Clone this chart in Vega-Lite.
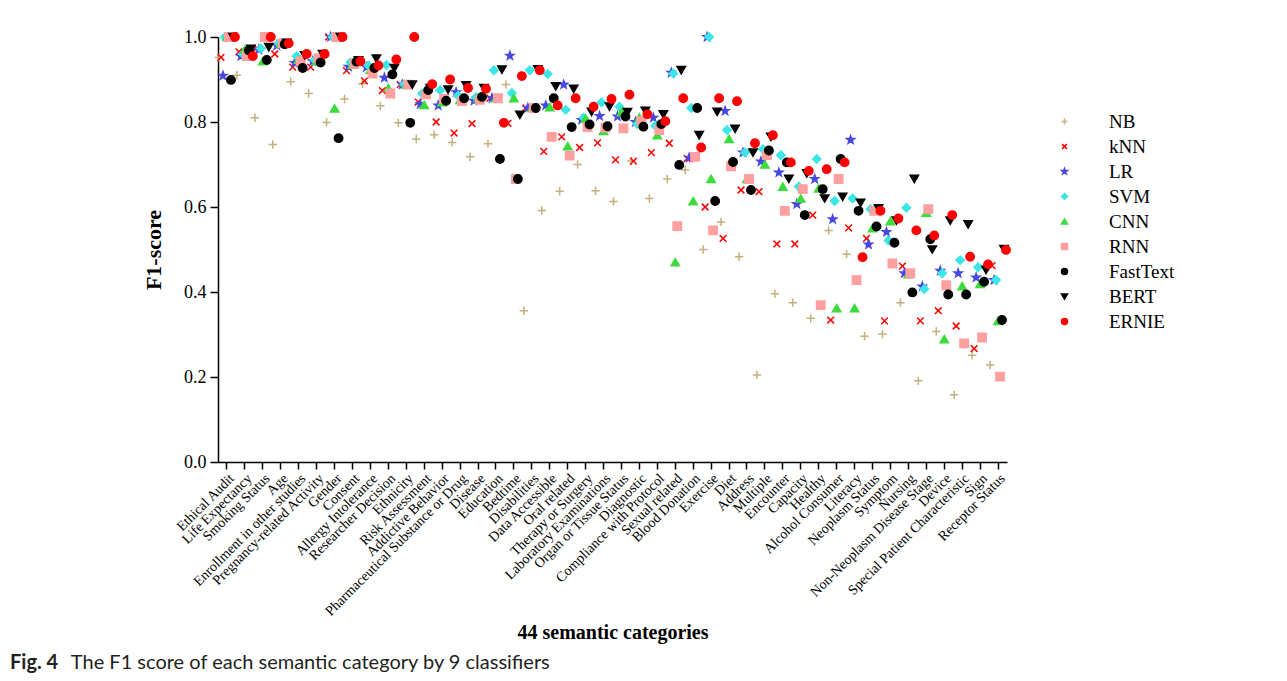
{
 "$schema": "https://vega.github.io/schema/vega-lite/v6.json",
 "width": 789,
 "height": 425,
 "autosize": {"type": "none"},
 "padding": {"left": 218, "top": 37, "right": 280, "bottom": 219},
 "background": "white",
 "datasets": {
  "cats": [{"i":0,"c":"Ethical Audit"},{"i":1,"c":"Life Expectancy"},{"i":2,"c":"Smoking Status"},{"i":3,"c":"Age"},{"i":4,"c":"Enrollment in other studies"},{"i":5,"c":"Pregnancy-related Activity"},{"i":6,"c":"Gender"},{"i":7,"c":"Consent"},{"i":8,"c":"Allergy Intolerance"},{"i":9,"c":"Researcher Decision"},{"i":10,"c":"Ethnicity"},{"i":11,"c":"Risk Assessment"},{"i":12,"c":"Addictive Behavior"},{"i":13,"c":"Pharmaceutical Substance or Drug"},{"i":14,"c":"Disease"},{"i":15,"c":"Education"},{"i":16,"c":"Bedtime"},{"i":17,"c":"Disabilities"},{"i":18,"c":"Data Accessible"},{"i":19,"c":"Oral related"},{"i":20,"c":"Therapy or Surgery"},{"i":21,"c":"Laboratory Examinations"},{"i":22,"c":"Organ or Tissue Status"},{"i":23,"c":"Diagnostic"},{"i":24,"c":"Compliance with Protocol"},{"i":25,"c":"Sexual related"},{"i":26,"c":"Blood Donation"},{"i":27,"c":"Exercise"},{"i":28,"c":"Diet"},{"i":29,"c":"Address"},{"i":30,"c":"Multiple"},{"i":31,"c":"Encounter"},{"i":32,"c":"Capacity"},{"i":33,"c":"Healthy"},{"i":34,"c":"Alcohol Consumer"},{"i":35,"c":"Literacy"},{"i":36,"c":"Neoplasm Status"},{"i":37,"c":"Symptom"},{"i":38,"c":"Nursing"},{"i":39,"c":"Non-Neoplasm Disease Stage"},{"i":40,"c":"Device"},{"i":41,"c":"Special Patient Characteristic"},{"i":42,"c":"Sign"},{"i":43,"c":"Receptor Status"}],
  "pts": [
{"i":0,"m":"NB","v":0.952},{"i":1,"m":"NB","v":0.91},{"i":2,"m":"NB","v":0.81},{"i":3,"m":"NB","v":0.747},{"i":4,"m":"NB","v":0.895},{"i":5,"m":"NB","v":0.867},{"i":6,"m":"NB","v":0.799},{"i":7,"m":"NB","v":0.854},{"i":8,"m":"NB","v":0.89},{"i":9,"m":"NB","v":0.838},{"i":10,"m":"NB","v":0.798},{"i":11,"m":"NB","v":0.76},{"i":12,"m":"NB","v":0.77},{"i":13,"m":"NB","v":0.752},{"i":14,"m":"NB","v":0.718},{"i":15,"m":"NB","v":0.749},{"i":16,"m":"NB","v":0.888},{"i":17,"m":"NB","v":0.356},{"i":18,"m":"NB","v":0.592},{"i":19,"m":"NB","v":0.637},{"i":20,"m":"NB","v":0.70},{"i":21,"m":"NB","v":0.638},{"i":22,"m":"NB","v":0.613},{"i":23,"m":"NB","v":0.708},{"i":24,"m":"NB","v":0.62},{"i":25,"m":"NB","v":0.666},{"i":26,"m":"NB","v":0.687},{"i":27,"m":"NB","v":0.50},{"i":28,"m":"NB","v":0.565},{"i":29,"m":"NB","v":0.483},{"i":30,"m":"NB","v":0.205},{"i":31,"m":"NB","v":0.396},{"i":32,"m":"NB","v":0.375},{"i":33,"m":"NB","v":0.338},{"i":34,"m":"NB","v":0.545},{"i":35,"m":"NB","v":0.489},{"i":36,"m":"NB","v":0.296},{"i":37,"m":"NB","v":0.301},{"i":38,"m":"NB","v":0.375},{"i":39,"m":"NB","v":0.191},{"i":40,"m":"NB","v":0.307},{"i":41,"m":"NB","v":0.158},{"i":42,"m":"NB","v":0.251},{"i":43,"m":"NB","v":0.228},
{"i":0,"m":"kNN","v":0.952},{"i":1,"m":"kNN","v":0.965},{"i":2,"m":"kNN","v":0.974},{"i":3,"m":"kNN","v":0.96},{"i":4,"m":"kNN","v":0.929},{"i":5,"m":"kNN","v":0.929},{"i":6,"m":"kNN","v":1.0},{"i":7,"m":"kNN","v":0.921},{"i":8,"m":"kNN","v":0.897},{"i":9,"m":"kNN","v":0.874},{"i":10,"m":"kNN","v":0.888},{"i":11,"m":"kNN","v":0.847},{"i":12,"m":"kNN","v":0.80},{"i":13,"m":"kNN","v":0.774},{"i":14,"m":"kNN","v":0.796},{"i":15,"m":"kNN","v":0.856},{"i":16,"m":"kNN","v":0.797},{"i":17,"m":"kNN","v":0.833},{"i":18,"m":"kNN","v":0.731},{"i":19,"m":"kNN","v":0.765},{"i":20,"m":"kNN","v":0.74},{"i":21,"m":"kNN","v":0.751},{"i":22,"m":"kNN","v":0.711},{"i":23,"m":"kNN","v":0.708},{"i":24,"m":"kNN","v":0.728},{"i":25,"m":"kNN","v":0.75},{"i":26,"m":"kNN","v":0.714},{"i":27,"m":"kNN","v":0.60},{"i":28,"m":"kNN","v":0.526},{"i":29,"m":"kNN","v":0.64},{"i":30,"m":"kNN","v":0.636},{"i":31,"m":"kNN","v":0.513},{"i":32,"m":"kNN","v":0.513},{"i":33,"m":"kNN","v":0.581},{"i":34,"m":"kNN","v":0.334},{"i":35,"m":"kNN","v":0.551},{"i":36,"m":"kNN","v":0.526},{"i":37,"m":"kNN","v":0.332},{"i":38,"m":"kNN","v":0.461},{"i":39,"m":"kNN","v":0.332},{"i":40,"m":"kNN","v":0.356},{"i":41,"m":"kNN","v":0.32},{"i":42,"m":"kNN","v":0.267},{"i":43,"m":"kNN","v":0.462},
{"i":0,"m":"LR","v":0.909},{"i":1,"m":"LR","v":0.955},{"i":2,"m":"LR","v":0.97},{"i":3,"m":"LR","v":0.98},{"i":4,"m":"LR","v":0.939},{"i":5,"m":"LR","v":0.943},{"i":6,"m":"LR","v":1.0},{"i":7,"m":"LR","v":0.93},{"i":8,"m":"LR","v":0.929},{"i":9,"m":"LR","v":0.904},{"i":10,"m":"LR","v":0.888},{"i":11,"m":"LR","v":0.842},{"i":12,"m":"LR","v":0.839},{"i":13,"m":"LR","v":0.87},{"i":14,"m":"LR","v":0.85},{"i":15,"m":"LR","v":0.856},{"i":16,"m":"LR","v":0.956},{"i":17,"m":"LR","v":0.833},{"i":18,"m":"LR","v":0.839},{"i":19,"m":"LR","v":0.888},{"i":20,"m":"LR","v":0.805},{"i":21,"m":"LR","v":0.814},{"i":22,"m":"LR","v":0.813},{"i":23,"m":"LR","v":0.80},{"i":24,"m":"LR","v":0.81},{"i":25,"m":"LR","v":0.916},{"i":26,"m":"LR","v":0.716},{"i":27,"m":"LR","v":1.0},{"i":28,"m":"LR","v":0.826},{"i":29,"m":"LR","v":0.728},{"i":30,"m":"LR","v":0.707},{"i":31,"m":"LR","v":0.681},{"i":32,"m":"LR","v":0.607},{"i":33,"m":"LR","v":0.666},{"i":34,"m":"LR","v":0.571},{"i":35,"m":"LR","v":0.758},{"i":36,"m":"LR","v":0.512},{"i":37,"m":"LR","v":0.541},{"i":38,"m":"LR","v":0.444},{"i":39,"m":"LR","v":0.413},{"i":40,"m":"LR","v":0.45},{"i":41,"m":"LR","v":0.444},{"i":42,"m":"LR","v":0.434},{"i":43,"m":"LR","v":0.428},
{"i":0,"m":"SVM","v":1.0},{"i":1,"m":"SVM","v":0.96},{"i":2,"m":"SVM","v":0.973},{"i":3,"m":"SVM","v":0.985},{"i":4,"m":"SVM","v":0.955},{"i":5,"m":"SVM","v":0.946},{"i":6,"m":"SVM","v":1.0},{"i":7,"m":"SVM","v":0.94},{"i":8,"m":"SVM","v":0.933},{"i":9,"m":"SVM","v":0.934},{"i":10,"m":"SVM","v":0.888},{"i":11,"m":"SVM","v":0.867},{"i":12,"m":"SVM","v":0.875},{"i":13,"m":"SVM","v":0.862},{"i":14,"m":"SVM","v":0.858},{"i":15,"m":"SVM","v":0.922},{"i":16,"m":"SVM","v":0.868},{"i":17,"m":"SVM","v":0.922},{"i":18,"m":"SVM","v":0.913},{"i":19,"m":"SVM","v":0.829},{"i":20,"m":"SVM","v":0.81},{"i":21,"m":"SVM","v":0.846},{"i":22,"m":"SVM","v":0.836},{"i":23,"m":"SVM","v":0.795},{"i":24,"m":"SVM","v":0.791},{"i":25,"m":"SVM","v":0.914},{"i":26,"m":"SVM","v":0.833},{"i":27,"m":"SVM","v":1.0},{"i":28,"m":"SVM","v":0.781},{"i":29,"m":"SVM","v":0.728},{"i":30,"m":"SVM","v":0.736},{"i":31,"m":"SVM","v":0.722},{"i":32,"m":"SVM","v":0.648},{"i":33,"m":"SVM","v":0.713},{"i":34,"m":"SVM","v":0.614},{"i":35,"m":"SVM","v":0.62},{"i":36,"m":"SVM","v":0.595},{"i":37,"m":"SVM","v":0.521},{"i":38,"m":"SVM","v":0.598},{"i":39,"m":"SVM","v":0.407},{"i":40,"m":"SVM","v":0.444},{"i":41,"m":"SVM","v":0.475},{"i":42,"m":"SVM","v":0.458},{"i":43,"m":"SVM","v":0.428},
{"i":0,"m":"CNN","v":1.0},{"i":1,"m":"CNN","v":0.97},{"i":2,"m":"CNN","v":0.943},{"i":3,"m":"CNN","v":0.985},{"i":4,"m":"CNN","v":0.947},{"i":5,"m":"CNN","v":0.943},{"i":6,"m":"CNN","v":0.832},{"i":7,"m":"CNN","v":0.935},{"i":8,"m":"CNN","v":0.923},{"i":9,"m":"CNN","v":0.88},{"i":10,"m":"CNN","v":0.888},{"i":11,"m":"CNN","v":0.84},{"i":12,"m":"CNN","v":0.847},{"i":13,"m":"CNN","v":0.852},{"i":14,"m":"CNN","v":0.856},{"i":15,"m":"CNN","v":0.856},{"i":16,"m":"CNN","v":0.856},{"i":17,"m":"CNN","v":0.833},{"i":18,"m":"CNN","v":0.835},{"i":19,"m":"CNN","v":0.743},{"i":20,"m":"CNN","v":0.808},{"i":21,"m":"CNN","v":0.779},{"i":22,"m":"CNN","v":0.823},{"i":23,"m":"CNN","v":0.811},{"i":24,"m":"CNN","v":0.769},{"i":25,"m":"CNN","v":0.47},{"i":26,"m":"CNN","v":0.614},{"i":27,"m":"CNN","v":0.666},{"i":28,"m":"CNN","v":0.76},{"i":29,"m":"CNN","v":0.666},{"i":30,"m":"CNN","v":0.70},{"i":31,"m":"CNN","v":0.648},{"i":32,"m":"CNN","v":0.62},{"i":33,"m":"CNN","v":0.644},{"i":34,"m":"CNN","v":0.362},{"i":35,"m":"CNN","v":0.362},{"i":36,"m":"CNN","v":0.55},{"i":37,"m":"CNN","v":0.567},{"i":38,"m":"CNN","v":0.442},{"i":39,"m":"CNN","v":0.587},{"i":40,"m":"CNN","v":0.289},{"i":41,"m":"CNN","v":0.414},{"i":42,"m":"CNN","v":0.419},{"i":43,"m":"CNN","v":0.332},
{"i":0,"m":"RNN","v":1.0},{"i":1,"m":"RNN","v":0.955},{"i":2,"m":"RNN","v":1.0},{"i":3,"m":"RNN","v":0.985},{"i":4,"m":"RNN","v":0.943},{"i":5,"m":"RNN","v":0.95},{"i":6,"m":"RNN","v":1.0},{"i":7,"m":"RNN","v":0.937},{"i":8,"m":"RNN","v":0.914},{"i":9,"m":"RNN","v":0.867},{"i":10,"m":"RNN","v":0.888},{"i":11,"m":"RNN","v":0.865},{"i":12,"m":"RNN","v":0.854},{"i":13,"m":"RNN","v":0.849},{"i":14,"m":"RNN","v":0.852},{"i":15,"m":"RNN","v":0.856},{"i":16,"m":"RNN","v":0.666},{"i":17,"m":"RNN","v":0.833},{"i":18,"m":"RNN","v":0.765},{"i":19,"m":"RNN","v":0.721},{"i":20,"m":"RNN","v":0.788},{"i":21,"m":"RNN","v":0.787},{"i":22,"m":"RNN","v":0.785},{"i":23,"m":"RNN","v":0.802},{"i":24,"m":"RNN","v":0.781},{"i":25,"m":"RNN","v":0.555},{"i":26,"m":"RNN","v":0.718},{"i":27,"m":"RNN","v":0.545},{"i":28,"m":"RNN","v":0.696},{"i":29,"m":"RNN","v":0.666},{"i":30,"m":"RNN","v":0.722},{"i":31,"m":"RNN","v":0.591},{"i":32,"m":"RNN","v":0.642},{"i":33,"m":"RNN","v":0.369},{"i":34,"m":"RNN","v":0.666},{"i":35,"m":"RNN","v":0.428},{"i":36,"m":"RNN","v":0.591},{"i":37,"m":"RNN","v":0.467},{"i":38,"m":"RNN","v":0.444},{"i":39,"m":"RNN","v":0.595},{"i":40,"m":"RNN","v":0.416},{"i":41,"m":"RNN","v":0.279},{"i":42,"m":"RNN","v":0.293},{"i":43,"m":"RNN","v":0.201},
{"i":0,"m":"FastText","v":0.899},{"i":1,"m":"FastText","v":0.968},{"i":2,"m":"FastText","v":0.946},{"i":3,"m":"FastText","v":0.983},{"i":4,"m":"FastText","v":0.927},{"i":5,"m":"FastText","v":0.94},{"i":6,"m":"FastText","v":0.762},{"i":7,"m":"FastText","v":0.942},{"i":8,"m":"FastText","v":0.927},{"i":9,"m":"FastText","v":0.912},{"i":10,"m":"FastText","v":0.798},{"i":11,"m":"FastText","v":0.875},{"i":12,"m":"FastText","v":0.85},{"i":13,"m":"FastText","v":0.856},{"i":14,"m":"FastText","v":0.859},{"i":15,"m":"FastText","v":0.713},{"i":16,"m":"FastText","v":0.666},{"i":17,"m":"FastText","v":0.833},{"i":18,"m":"FastText","v":0.856},{"i":19,"m":"FastText","v":0.788},{"i":20,"m":"FastText","v":0.794},{"i":21,"m":"FastText","v":0.79},{"i":22,"m":"FastText","v":0.813},{"i":23,"m":"FastText","v":0.789},{"i":24,"m":"FastText","v":0.795},{"i":25,"m":"FastText","v":0.699},{"i":26,"m":"FastText","v":0.833},{"i":27,"m":"FastText","v":0.614},{"i":28,"m":"FastText","v":0.706},{"i":29,"m":"FastText","v":0.64},{"i":30,"m":"FastText","v":0.733},{"i":31,"m":"FastText","v":0.705},{"i":32,"m":"FastText","v":0.581},{"i":33,"m":"FastText","v":0.642},{"i":34,"m":"FastText","v":0.713},{"i":35,"m":"FastText","v":0.591},{"i":36,"m":"FastText","v":0.554},{"i":37,"m":"FastText","v":0.516},{"i":38,"m":"FastText","v":0.399},{"i":39,"m":"FastText","v":0.524},{"i":40,"m":"FastText","v":0.394},{"i":41,"m":"FastText","v":0.394},{"i":42,"m":"FastText","v":0.424},{"i":43,"m":"FastText","v":0.334},
{"i":0,"m":"BERT","v":1.0},{"i":1,"m":"BERT","v":0.972},{"i":2,"m":"BERT","v":0.976},{"i":3,"m":"BERT","v":0.986},{"i":4,"m":"BERT","v":0.957},{"i":5,"m":"BERT","v":0.96},{"i":6,"m":"BERT","v":1.0},{"i":7,"m":"BERT","v":0.945},{"i":8,"m":"BERT","v":0.949},{"i":9,"m":"BERT","v":0.927},{"i":10,"m":"BERT","v":0.888},{"i":11,"m":"BERT","v":0.88},{"i":12,"m":"BERT","v":0.876},{"i":13,"m":"BERT","v":0.886},{"i":14,"m":"BERT","v":0.88},{"i":15,"m":"BERT","v":0.923},{"i":16,"m":"BERT","v":0.817},{"i":17,"m":"BERT","v":0.924},{"i":18,"m":"BERT","v":0.884},{"i":19,"m":"BERT","v":0.878},{"i":20,"m":"BERT","v":0.824},{"i":21,"m":"BERT","v":0.836},{"i":22,"m":"BERT","v":0.823},{"i":23,"m":"BERT","v":0.826},{"i":24,"m":"BERT","v":0.818},{"i":25,"m":"BERT","v":0.922},{"i":26,"m":"BERT","v":0.769},{"i":27,"m":"BERT","v":0.824},{"i":28,"m":"BERT","v":0.784},{"i":29,"m":"BERT","v":0.728},{"i":30,"m":"BERT","v":0.765},{"i":31,"m":"BERT","v":0.666},{"i":32,"m":"BERT","v":0.679},{"i":33,"m":"BERT","v":0.62},{"i":34,"m":"BERT","v":0.624},{"i":35,"m":"BERT","v":0.61},{"i":36,"m":"BERT","v":0.597},{"i":37,"m":"BERT","v":0.568},{"i":38,"m":"BERT","v":0.666},{"i":39,"m":"BERT","v":0.50},{"i":40,"m":"BERT","v":0.568},{"i":41,"m":"BERT","v":0.559},{"i":42,"m":"BERT","v":0.452},{"i":43,"m":"BERT","v":0.501},
{"i":0,"m":"ERNIE","v":1.0},{"i":1,"m":"ERNIE","v":0.955},{"i":2,"m":"ERNIE","v":1.0},{"i":3,"m":"ERNIE","v":0.985},{"i":4,"m":"ERNIE","v":0.96},{"i":5,"m":"ERNIE","v":0.96},{"i":6,"m":"ERNIE","v":1.0},{"i":7,"m":"ERNIE","v":0.943},{"i":8,"m":"ERNIE","v":0.933},{"i":9,"m":"ERNIE","v":0.947},{"i":10,"m":"ERNIE","v":1.0},{"i":11,"m":"ERNIE","v":0.889},{"i":12,"m":"ERNIE","v":0.90},{"i":13,"m":"ERNIE","v":0.88},{"i":14,"m":"ERNIE","v":0.878},{"i":15,"m":"ERNIE","v":0.798},{"i":16,"m":"ERNIE","v":0.908},{"i":17,"m":"ERNIE","v":0.922},{"i":18,"m":"ERNIE","v":0.839},{"i":19,"m":"ERNIE","v":0.856},{"i":20,"m":"ERNIE","v":0.836},{"i":21,"m":"ERNIE","v":0.854},{"i":22,"m":"ERNIE","v":0.864},{"i":23,"m":"ERNIE","v":0.818},{"i":24,"m":"ERNIE","v":0.802},{"i":25,"m":"ERNIE","v":0.856},{"i":26,"m":"ERNIE","v":0.74},{"i":27,"m":"ERNIE","v":0.856},{"i":28,"m":"ERNIE","v":0.849},{"i":29,"m":"ERNIE","v":0.75},{"i":30,"m":"ERNIE","v":0.769},{"i":31,"m":"ERNIE","v":0.705},{"i":32,"m":"ERNIE","v":0.685},{"i":33,"m":"ERNIE","v":0.689},{"i":34,"m":"ERNIE","v":0.705},{"i":35,"m":"ERNIE","v":0.482},{"i":36,"m":"ERNIE","v":0.591},{"i":37,"m":"ERNIE","v":0.573},{"i":38,"m":"ERNIE","v":0.545},{"i":39,"m":"ERNIE","v":0.533},{"i":40,"m":"ERNIE","v":0.581},{"i":41,"m":"ERNIE","v":0.483},{"i":42,"m":"ERNIE","v":0.465},{"i":43,"m":"ERNIE","v":0.499}
  ]
 },
 "data": {"name": "pts"},
 "transform": [{"lookup": "i", "from": {"data": {"name": "cats"}, "key": "i", "fields": ["c"]}}],
 "title": {
  "text": "Fig. 4",
  "subtitle": "\u200b\u00a0\u00a0\u00a0\u00a0\u00a0\u00a0\u00a0\u00a0\u00a0\u00a0\u00a0\u00a0The F1 score of each semantic category by 9 classifiers",
  "orient": "bottom",
  "anchor": "start",
  "frame": "group",
  "font": "Lato",
  "fontSize": 20,
  "fontWeight": "bold",
  "color": "#231f20",
  "subtitleFont": "Lato",
  "subtitleFontSize": 20,
  "subtitleFontWeight": "normal",
  "subtitleColor": "#231f20",
  "subtitlePadding": -20,
  "dx": -208,
  "offset": 11
 },
 "mark": {"type": "point", "filled": true, "size": 70, "strokeWidth": 1.5, "opacity": 1},
 "encoding": {
  "x": {
   "field": "c", "type": "nominal", "sort": null,
   "scale": {"paddingInner": 0, "paddingOuter": 0},
   "axis": {
    "title": "44 semantic categories",
    "titleFont": "Liberation Serif", "titleFontSize": 20, "titleFontWeight": "bold", "titleColor": "black",
    "titleY": 176, "titleBaseline": "alphabetic",
    "labelAngle": -45, "labelFont": "Liberation Serif", "labelFontSize": 14, "labelColor": "black",
    "labelLimit": 400, "labelOverlap": false, "labelPadding": 2,
    "tickSize": 7, "tickColor": "black", "tickWidth": 1.5,
    "domainColor": "black", "domainWidth": 1.5, "grid": false
   }
  },
  "xOffset": {"field": "m", "type": "nominal", "scale": {"domain": ["NB","kNN","LR","SVM","CNN","RNN","FastText","BERT","ERNIE"]}},
  "y": {
   "field": "v", "type": "quantitative",
   "scale": {"domain": [0, 1], "nice": false},
   "axis": {
    "title": "F1-score",
    "values": [0, 0.2, 0.4, 0.6, 0.8, 1.0], "format": ".1f",
    "labelFont": "Liberation Serif", "labelFontSize": 18, "labelColor": "black", "labelPadding": 4,
    "tickSize": 8, "tickColor": "black", "tickWidth": 1.5,
    "domainColor": "black", "domainWidth": 1.5, "grid": false,
    "titleFont": "Liberation Serif", "titleFontSize": 22, "titleFontWeight": "bold", "titleColor": "black",
    "titlePadding": 18
   }
  },
  "fill": {
   "field": "m", "type": "nominal",
   "scale": {"domain": ["NB","kNN","LR","SVM","CNN","RNN","FastText","BERT","ERNIE"], "range": ["#c4b07c","#ff0000","#4848e0","#3ce6e6","#3cdc3c","#ffa0a0","#000000","#000000","#ff0000"]},
   "legend": {"title": null}
  },
  "stroke": {
   "field": "m", "type": "nominal",
   "scale": {"domain": ["NB","kNN","LR","SVM","CNN","RNN","FastText","BERT","ERNIE"], "range": ["#c4b07c","#ff0000","#4848e0","#3ce6e6","#3cdc3c","#ffa0a0","#000000","#000000","#ff0000"]},
   "legend": {"title": null}
  },
  "shape": {
   "field": "m", "type": "nominal",
   "scale": {"domain": ["NB","kNN","LR","SVM","CNN","RNN","FastText","BERT","ERNIE"], "range": ["M-1,0L1,0M0,-1L0,1","M-0.8,-0.8L0.8,0.8M-0.8,0.8L0.8,-0.8","M0,-1L0.235,-0.324L0.951,-0.309L0.38,0.124L0.588,0.809L0,0.4L-0.588,0.809L-0.38,0.124L-0.951,-0.309L-0.235,-0.324Z","diamond","triangle-up","square","circle","triangle-down","circle"]},
   "legend": {"title": null}
  }
 },
 "config": {
  "view": {"stroke": null},
  "legend": {
   "orient": "none", "legendX": 837, "legendY": 75,
   "padding": 0, "offset": 0,
   "labelFont": "Liberation Serif", "labelFontSize": 19, "labelColor": "black",
   "labelOffset": 35, "rowPadding": 5,
   "symbolSize": 36, "symbolStrokeWidth": 1.5
  }
 }
}
